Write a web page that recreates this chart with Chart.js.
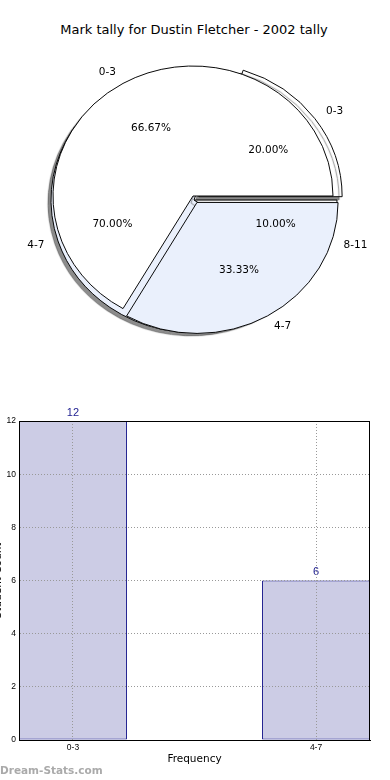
<!DOCTYPE html>
<html>
<head>
<meta charset="utf-8">
<script src="https://cdn.jsdelivr.net/npm/chart.js@4.4.0/dist/chart.umd.min.js"></script>
<style>
    html, body { margin: 0; padding: 0; background: #fff; }
    #page { position: relative; width: 390px; height: 780px; overflow: hidden; font-family: 'DejaVu Sans', sans-serif; }
    #title { position: absolute; left: 0; top: 22px; width: 388px; line-height: 16px; text-align: center; font-size: 13px; color: #000; }
    .pie { position: absolute; left: 0; top: 0; }
    #barChart { position: absolute; left: 0; top: 380px; }
    #mark { position: absolute; left: 0; top: 763px; line-height: 14px; font-weight: bold; font-size: 10.5px; color: #aaa; }
</style>
</head>
<body>
<div id="page">
    <div id="title">Mark tally for Dustin Fletcher - 2002 tally</div>
    <canvas id="pieLower" class="pie" width="390" height="370"></canvas>
    <canvas id="pieUpper" class="pie" width="390" height="370"></canvas>
    <canvas id="barChart" width="390" height="400"></canvas>
    <div id="mark">Dream-Stats.com</div>
</div>
<script>
// Tally pie (front) - counts per mark band
const tallyLabels = ['0-3', '4-7'];
const tallyCounts = [12, 6];

// Second pie (behind, with shadow) - share per mark band
const bandLabels = ['0-3', '4-7', '8-11'];
const bandShares = [20, 70, 10];

// Bar chart
const barLabels = ['0-3', '4-7'];
const barCounts = [12, 6];
const yAxisTitle = 'Student Count';
const xAxisTitle = 'Frequency';

Chart.defaults.font.family = "'DejaVu Sans', sans-serif";

const ELLIPSE = 130 / 140;   // original pies are a bit flatter than round
const LIGHT_BLUE = '#eaf0fc';

// labels outside (1.1 r), percentages inside (0.6 r)
function drawPieLabels(ctx, chart) {
    const meta = chart.getDatasetMeta(0);
    const values = chart.data.datasets[0].data;
    const total = values.reduce((s, v) => s + v, 0);
    ctx.save();
    ctx.font = "10.5px 'DejaVu Sans'";
    ctx.fillStyle = '#000';
    ctx.textBaseline = 'middle';
    meta.data.forEach((arc, i) => {
        const mid = (arc.startAngle + arc.endAngle) / 2;
        const dx = Math.cos(mid), dy = Math.sin(mid);
        const shift = (arc.options.offset || 0) / 4;
        const at = f => [
            arc.x + dx * (shift + f * arc.outerRadius),
            arc.y + dy * (shift + f * arc.outerRadius) * ELLIPSE
        ];
        let [x, y] = at(1.1);
        ctx.textAlign = dx > 0 ? 'left' : 'right';
        ctx.fillText(chart.data.labels[i], x, y);
        [x, y] = at(0.6);
        ctx.textAlign = 'center';
        ctx.fillText((values[i] / total * 100).toFixed(2) + '%', x, y);
    });
    ctx.restore();
}

let lowerPie = null;

const pieLook = {
    id: 'pieLook',
    beforeDatasetsDraw(chart, args, opts) {
        const arc = chart.getDatasetMeta(0).data[0];
        const ctx = chart.ctx;
        ctx.save();
        ctx.translate(arc.x, arc.y);
        ctx.scale(1, ELLIPSE);
        ctx.translate(-arc.x, -arc.y);
        if (opts.shadow) {
            ctx.shadowColor = 'rgba(0,0,0,0.45)';
            ctx.shadowOffsetX = -3;
            ctx.shadowOffsetY = 3;
            ctx.shadowBlur = 1;
        }
    },
    afterDatasetsDraw(chart) {
        chart.ctx.restore();
    },
    afterDraw(chart, args, opts) {
        // all texts sit above both pies, so the top canvas draws them
        if (!opts.labels) return;
        if (lowerPie) drawPieLabels(chart.ctx, lowerPie);
        drawPieLabels(chart.ctx, chart);
    }
};

function pieConfig(labels, values, colors, explode, radius, padding, shadow, labelsHere) {
    // Chart.js runs clockwise, the original counter-clockwise from 3 o'clock
    const rev = a => a.slice().reverse();
    return {
        type: 'pie',
        data: {
            labels: rev(labels),
            datasets: [{
                data: rev(values),
                backgroundColor: rev(colors),
                borderColor: '#000',
                borderWidth: 1,
                offset: rev(explode)
            }]
        },
        options: {
            responsive: false,
            animation: false,
            events: [],
            rotation: 90,
            radius: radius,
            clip: false,
            layout: { padding: padding },
            plugins: {
                legend: { display: false },
                tooltip: { enabled: false },
                pieLook: { shadow: shadow, labels: labelsHere }
            }
        },
        plugins: [pieLook]
    };
}

lowerPie = new Chart(document.getElementById('pieLower'),
    pieConfig(bandLabels, bandShares, ['#ffffff', LIGHT_BLUE, '#ffffff'], [24, 0, 0], 143,
        { top: 30, right: 2, left: 0, bottom: 0 }, true, false));

new Chart(document.getElementById('pieUpper'),
    pieConfig(tallyLabels, tallyCounts, ['#ffffff', LIGHT_BLUE], [0, 32], 140,
        { top: 22, right: 4, left: 0, bottom: 0 }, false, true));

// value above each bar
const barValues = {
    id: 'barValues',
    afterDatasetsDraw(chart) {
        const ctx = chart.ctx;
        ctx.save();
        ctx.font = "11px 'Liberation Sans'";
        ctx.fillStyle = '#1c1c8f';
        ctx.textAlign = 'center';
        ctx.textBaseline = 'bottom';
        chart.getDatasetMeta(0).data.forEach((bar, i) => {
            ctx.fillText(String(barCounts[i]), bar.x, bar.y - 3);
        });
        ctx.restore();
    }
};

// closed frame round the plot, plus the y title that runs off the left edge
const frame = {
    id: 'frame',
    afterDraw(chart) {
        const { left, top, right, bottom } = chart.chartArea;
        const ctx = chart.ctx;
        ctx.save();
        ctx.strokeStyle = '#000';
        ctx.lineWidth = 1;
        ctx.strokeRect(Math.round(left) + 0.5, Math.round(top) + 0.5,
            Math.round(right - left) - 1, Math.round(bottom - top));
        ctx.translate(-2, (top + bottom) / 2);
        ctx.rotate(-Math.PI / 2);
        ctx.font = "10.5px 'DejaVu Sans'";
        ctx.fillStyle = '#000';
        ctx.textAlign = 'center';
        ctx.textBaseline = 'middle';
        ctx.fillText(yAxisTitle, 0, 0);
        ctx.restore();
    }
};

const tickFont = { size: 8.5, family: "'Liberation Sans'" };

new Chart(document.getElementById('barChart'), {
    type: 'bar',
    data: {
        datasets: [{
            data: barCounts.map((v, i) => ({ x: i, y: v })),
            backgroundColor: '#ccccE5',
            borderColor: '#000080',
            borderWidth: 1,
            borderSkipped: false,
            barPercentage: 0.444,
            categoryPercentage: 1
        }]
    },
    options: {
        responsive: false,
        animation: false,
        events: [],
        layout: { padding: { top: 41, right: 20, bottom: 10, left: 0 } },
        plugins: { legend: { display: false }, tooltip: { enabled: false } },
        scales: {
            x: {
                type: 'linear',
                offset: false,
                min: -0.222,
                max: 1.222,
                afterBuildTicks: s => { s.ticks = barLabels.map((_, i) => ({ value: i })); },
                afterFit: s => { s.height = 30; },
                ticks: {
                    callback: v => barLabels[v],
                    font: tickFont,
                    color: '#000',
                    padding: 3,
                    autoSkip: false,
                    maxRotation: 0
                },
                grid: { color: '#999', drawTicks: false, offset: false, z: 1 },
                border: { color: '#000', dash: [1, 2], z: 1 },
                title: {
                    display: true,
                    text: xAxisTitle,
                    font: { size: 10.5 },
                    color: '#000',
                    padding: { top: 4, bottom: 4 }
                }
            },
            y: {
                min: 0,
                max: 12,
                afterFit: s => { s.width = 19; },
                ticks: { stepSize: 2, font: tickFont, color: '#000', padding: 3 },
                grid: { color: '#999', drawTicks: false, z: 1 },
                border: { color: '#000', dash: [1, 2], z: 1 }
            }
        }
    },
    plugins: [barValues, frame]
});
</script>
</body>
</html>
